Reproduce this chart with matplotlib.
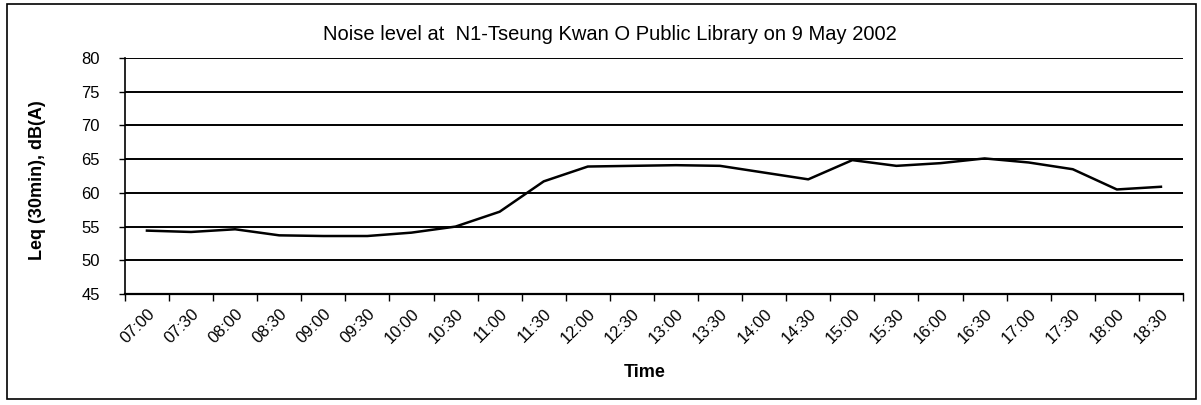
import matplotlib
matplotlib.use("Agg")
import matplotlib.pyplot as plt
from matplotlib.patches import Rectangle

plt.rcParams['font.family'] = ['Liberation Sans', 'DejaVu Sans']

# half-hour periods and measured Leq values
times = ['07:00', '07:30', '08:00', '08:30', '09:00', '09:30', '10:00', '10:30',
         '11:00', '11:30', '12:00', '12:30', '13:00', '13:30', '14:00', '14:30',
         '15:00', '15:30', '16:00', '16:30', '17:00', '17:30', '18:00', '18:30']
leq = [54.4, 54.2, 54.6, 53.7, 53.6, 53.6, 54.1, 55.0,
       57.2, 61.7, 63.9, 64.0, 64.1, 64.0, 63.0, 62.0,
       64.85, 64.0, 64.4, 65.1, 64.5, 63.5, 60.5, 60.9]
yticks = [45, 50, 55, 60, 65, 70, 75, 80]

fig = plt.figure(figsize=(12.01, 4.05), dpi=100)
ax = fig.add_axes([0.104, 0.274, 0.881, 0.583])

# outer chart border
fig.patches.append(Rectangle((0.006, 0.015), 0.99, 0.975, transform=fig.transFigure,
                             fill=False, edgecolor='black', linewidth=1.2))

x = list(range(len(times)))
for v in yticks[1:]:
    ax.axhline(v, color='black', linewidth=1.4, zorder=1)
ax.plot(x, leq, color='black', linewidth=1.8, zorder=3)

ax.set_xlim(-0.5, len(times) - 0.5)
ax.set_ylim(45, 80)
ax.set_yticks(yticks)
ax.tick_params(axis='y', labelsize=12, length=4, width=1, direction='out', pad=14)

# category ticks on boundaries, labels at centers
ax.set_xticks([i - 0.5 for i in range(len(times) + 1)])
ax.set_xticklabels([])
ax.tick_params(axis='x', length=5, width=1, direction='out')
ax.set_xticks(x, minor=True)
ax.set_xticklabels(times, minor=True, rotation=45, ha='right', rotation_mode='anchor',
                   fontsize=12)
ax.tick_params(axis='x', which='minor', length=0, pad=9)

for s in ['top', 'right']:
    ax.spines[s].set_visible(False)
ax.spines['left'].set_linewidth(1.2)
ax.spines['bottom'].set_linewidth(1.6)

fig.text(0.031, 0.556, 'Leq (30min), dB(A)', fontsize=13, fontweight='bold',
         rotation=90, ha='center', va='center')
fig.text(0.537, 0.08, 'Time', fontsize=13, fontweight='bold', ha='center', va='center')
fig.text(0.508, 0.915, 'Noise level at  N1-Tseung Kwan O Public Library on 9 May 2002',
         fontsize=14.5, ha='center', va='center')

fig.savefig('out.png', dpi=100)
